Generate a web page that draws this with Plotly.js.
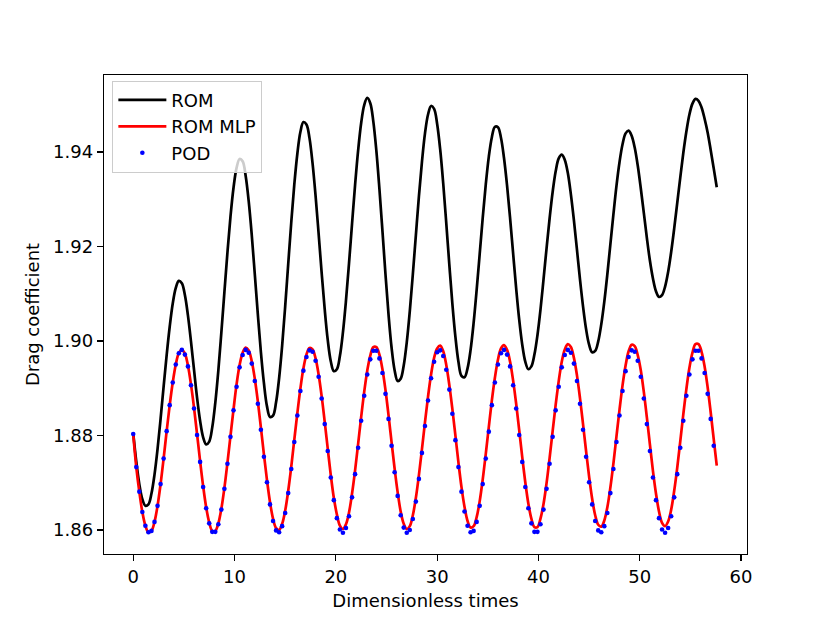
<!DOCTYPE html>
<html>
<head>
<meta charset="utf-8">
<script src="https://cdn.plot.ly/plotly-3.0.1.min.js"></script>
<style>
  html, body { margin: 0; padding: 0; background: #ffffff; }
  #chart { width: 830px; height: 623px; }
</style>
</head>
<body>
<div id="chart"></div>
<script>
// Sample times (dimensionless)
const times = [
  0,0.3,0.6,0.9,1.2,1.5,1.8,2.1,2.4,2.7,
  3,3.3,3.6,3.9,4.2,4.5,4.8,5.1,5.4,5.7,
  6,6.3,6.6,6.9,7.2,7.5,7.8,8.1,8.4,8.7,
  9,9.3,9.6,9.9,10.2,10.5,10.8,11.1,11.4,11.7,
  12,12.3,12.6,12.9,13.2,13.5,13.8,14.1,14.4,14.7,
  15,15.3,15.6,15.9,16.2,16.5,16.8,17.1,17.4,17.7,
  18,18.3,18.6,18.9,19.2,19.5,19.8,20.1,20.4,20.7,
  21,21.3,21.6,21.9,22.2,22.5,22.8,23.1,23.4,23.7,
  24,24.3,24.6,24.9,25.2,25.5,25.8,26.1,26.4,26.7,
  27,27.3,27.6,27.9,28.2,28.5,28.8,29.1,29.4,29.7,
  30,30.3,30.6,30.9,31.2,31.5,31.8,32.1,32.4,32.7,
  33,33.3,33.6,33.9,34.2,34.5,34.8,35.1,35.4,35.7,
  36,36.3,36.6,36.9,37.2,37.5,37.8,38.1,38.4,38.7,
  39,39.3,39.6,39.9,40.2,40.5,40.8,41.1,41.4,41.7,
  42,42.3,42.6,42.9,43.2,43.5,43.8,44.1,44.4,44.7,
  45,45.3,45.6,45.9,46.2,46.5,46.8,47.1,47.4,47.7,
  48,48.3,48.6,48.9,49.2,49.5,49.8,50.1,50.4,50.7,
  51,51.3,51.6,51.9,52.2,52.5,52.8,53.1,53.4,53.7,
  54,54.3,54.6,54.9,55.2,55.5,55.8,56.1,56.4,56.7,
  57,57.3,57.6
];

// ROM drag coefficient
const romValues = [
  1.8805,1.8745,1.8697,1.8665,1.8651,1.8654,1.8677,1.8717,1.8771,1.8835,
  1.8903,1.8970,1.9030,1.9079,1.9112,1.9127,1.9122,1.9097,1.9054,1.8999,
  1.8939,1.8880,1.8831,1.8796,1.8781,1.8787,1.8817,1.8869,1.8937,1.9018,
  1.9103,1.9187,1.9263,1.9324,1.9366,1.9385,1.9380,1.9349,1.9295,1.9224,
  1.9141,1.9056,1.8977,1.8911,1.8862,1.8839,1.8842,1.8870,1.8921,1.8990,
  1.9073,1.9163,1.9251,1.9331,1.9396,1.9442,1.9463,1.9458,1.9429,1.9376,
  1.9307,1.9227,1.9144,1.9067,1.9002,1.8957,1.8936,1.8940,1.8968,1.9018,
  1.9085,1.9164,1.9248,1.9330,1.9403,1.9461,1.9499,1.9514,1.9503,1.9464,
  1.9402,1.9322,1.9233,1.9141,1.9056,1.8986,1.8938,1.8915,1.8920,1.8948,
  1.8997,1.9063,1.9141,1.9224,1.9306,1.9379,1.9439,1.9479,1.9497,1.9491,
  1.9459,1.9405,1.9333,1.9249,1.9162,1.9079,1.9009,1.8956,1.8926,1.8923,
  1.8942,1.8981,1.9038,1.9108,1.9184,1.9261,1.9331,1.9390,1.9431,1.9453,
  1.9452,1.9430,1.9387,1.9329,1.9260,1.9185,1.9111,1.9045,1.8992,1.8956,
  1.8940,1.8946,1.8971,1.9012,1.9066,1.9130,1.9196,1.9259,1.9315,1.9359,
  1.9386,1.9394,1.9383,1.9355,1.9310,1.9255,1.9193,1.9130,1.9073,1.9025,
  1.8992,1.8976,1.8979,1.8999,1.9035,1.9083,1.9141,1.9205,1.9268,1.9328,
  1.9378,1.9416,1.9439,1.9445,1.9434,1.9409,1.9371,1.9323,1.9271,1.9218,
  1.9170,1.9132,1.9105,1.9093,1.9097,1.9115,1.9146,1.9188,1.9238,1.9292,
  1.9346,1.9398,1.9443,1.9479,1.9502,1.9512,1.9508,1.9494,1.9470,1.9441,
  1.9404,1.9365,1.9325
];

// ROM MLP drag coefficient
const romMlpValues = [
  1.8803,1.8733,1.8681,1.8638,1.8609,1.8595,1.8598,1.8617,1.8651,1.8697,
  1.8751,1.8809,1.8864,1.8912,1.8950,1.8974,1.8981,1.8973,1.8948,1.8908,
  1.8859,1.8803,1.8746,1.8693,1.8648,1.8616,1.8598,1.8598,1.8614,1.8645,
  1.8689,1.8742,1.8799,1.8855,1.8908,1.8949,1.8975,1.8986,1.8980,1.8957,
  1.8920,1.8872,1.8817,1.8760,1.8706,1.8659,1.8624,1.8604,1.8600,1.8613,
  1.8641,1.8683,1.8734,1.8791,1.8847,1.8899,1.8942,1.8971,1.8985,1.8982,
  1.8963,1.8929,1.8883,1.8829,1.8772,1.8716,1.8668,1.8633,1.8609,1.8602,
  1.8612,1.8637,1.8677,1.8726,1.8782,1.8839,1.8892,1.8937,1.8969,1.8987,
  1.8987,1.8971,1.8940,1.8896,1.8843,1.8786,1.8730,1.8680,1.8639,1.8613,
  1.8602,1.8608,1.8631,1.8668,1.8716,1.8771,1.8828,1.8882,1.8929,1.8964,
  1.8984,1.8990,1.8978,1.8949,1.8907,1.8856,1.8800,1.8743,1.8691,1.8649,
  1.8619,1.8605,1.8608,1.8627,1.8661,1.8707,1.8761,1.8818,1.8874,1.8922,
  1.8960,1.8984,1.8991,1.8981,1.8956,1.8916,1.8867,1.8811,1.8754,1.8701,
  1.8656,1.8624,1.8606,1.8606,1.8624,1.8655,1.8699,1.8752,1.8809,1.8865,
  1.8915,1.8956,1.8982,1.8993,1.8987,1.8964,1.8927,1.8879,1.8824,1.8767,
  1.8713,1.8666,1.8631,1.8611,1.8607,1.8620,1.8648,1.8690,1.8741,1.8798,
  1.8854,1.8906,1.8948,1.8978,1.8992,1.8989,1.8970,1.8938,1.8892,1.8838,
  1.8781,1.8725,1.8677,1.8639,1.8615,1.8608,1.8618,1.8643,1.8683,1.8732,
  1.8788,1.8845,1.8898,1.8943,1.8975,1.8993,1.8993,1.8977,1.8946,1.8902,
  1.8849,1.8792,1.8736
];

// POD drag coefficient (one sample fewer than the ROM curves)
const podValues = [
  1.8803,1.8733,1.8681,1.8638,1.8609,1.8595,1.8598,1.8617,1.8651,1.8697,
  1.8751,1.8809,1.8864,1.8912,1.8950,1.8974,1.8981,1.8971,1.8946,1.8906,
  1.8857,1.8801,1.8744,1.8691,1.8646,1.8614,1.8596,1.8596,1.8612,1.8643,
  1.8687,1.8740,1.8797,1.8853,1.8903,1.8944,1.8970,1.8981,1.8975,1.8952,
  1.8915,1.8867,1.8812,1.8755,1.8701,1.8654,1.8619,1.8599,1.8595,1.8608,
  1.8636,1.8678,1.8729,1.8786,1.8842,1.8894,1.8937,1.8966,1.8980,1.8977,
  1.8958,1.8924,1.8878,1.8824,1.8767,1.8711,1.8663,1.8625,1.8601,1.8594,
  1.8604,1.8629,1.8669,1.8718,1.8774,1.8831,1.8884,1.8929,1.8961,1.8979,
  1.8979,1.8963,1.8932,1.8888,1.8835,1.8778,1.8722,1.8672,1.8631,1.8605,
  1.8594,1.8600,1.8623,1.8660,1.8708,1.8763,1.8820,1.8874,1.8921,1.8956,
  1.8976,1.8980,1.8968,1.8939,1.8897,1.8846,1.8790,1.8733,1.8681,1.8639,
  1.8609,1.8595,1.8598,1.8617,1.8651,1.8697,1.8751,1.8808,1.8864,1.8912,
  1.8950,1.8974,1.8981,1.8971,1.8946,1.8906,1.8857,1.8801,1.8744,1.8691,
  1.8646,1.8614,1.8596,1.8596,1.8612,1.8643,1.8687,1.8740,1.8797,1.8853,
  1.8903,1.8944,1.8970,1.8981,1.8975,1.8952,1.8915,1.8867,1.8812,1.8755,
  1.8701,1.8654,1.8619,1.8599,1.8595,1.8608,1.8636,1.8678,1.8729,1.8786,
  1.8842,1.8894,1.8936,1.8966,1.8980,1.8977,1.8958,1.8924,1.8878,1.8824,
  1.8767,1.8711,1.8663,1.8625,1.8601,1.8594,1.8604,1.8629,1.8669,1.8718,
  1.8774,1.8831,1.8884,1.8929,1.8961,1.8979,1.8979,1.8963,1.8932,1.8888,
  1.8835,1.8778
];

const seriesNames = ['ROM', 'ROM MLP', 'POD'];
const xTickValues = [0, 10, 20, 30, 40, 50, 60];
const yTickValues = [1.86, 1.88, 1.90, 1.92, 1.94];
const xLabel = 'Dimensionless times';
const yLabel = 'Drag coefficient';

const podTimes = times.slice(0, podValues.length);

const FONT = '"DejaVu Sans", "Liberation Sans", sans-serif';

const traces = [
  {
    x: times, y: romValues, name: seriesNames[0],
    type: 'scatter', mode: 'lines',
    line: { color: '#000000', width: 2.7, shape: 'spline', smoothing: 1 }
  },
  {
    x: times, y: romMlpValues, name: seriesNames[1],
    type: 'scatter', mode: 'lines',
    line: { color: '#ff0000', width: 2.7, shape: 'spline', smoothing: 1 }
  },
  {
    x: podTimes, y: podValues, name: seriesNames[2],
    type: 'scatter', mode: 'markers',
    marker: { color: '#0000ff', size: 4.6, line: { width: 0 } }
  }
];

const axisCommon = {
  showgrid: false,
  zeroline: false,
  showline: true,
  mirror: true,
  linecolor: '#000000',
  linewidth: 1.3,
  ticks: 'outside',
  ticklen: 6,
  tickwidth: 1.3,
  tickcolor: '#000000',
  tickfont: { family: FONT, size: 18, color: '#000000' },
  automargin: false
};

const layout = {
  width: 830,
  height: 623,
  paper_bgcolor: '#ffffff',
  plot_bgcolor: '#ffffff',
  font: { family: FONT, size: 18, color: '#000000' },
  margin: { l: 104, r: 83, t: 75, b: 69, pad: 0 },
  showlegend: true,
  legend: {
    x: 0.013, y: 0.988, xanchor: 'left', yanchor: 'top',
    bgcolor: 'rgba(255,255,255,0.8)',
    bordercolor: '#cccccc',
    borderwidth: 1,
    font: { family: FONT, size: 18, color: '#000000' },
    itemwidth: 48
  },
  xaxis: Object.assign({}, axisCommon, {
    range: [-2.885, 60.585],
    tickvals: xTickValues,
    ticktext: xTickValues.map(v => String(v)),
    title: { text: xLabel, font: { family: FONT, size: 18, color: '#000000' }, standoff: 8 }
  }),
  yaxis: Object.assign({}, axisCommon, {
    range: [1.85491, 1.95626],
    tickvals: yTickValues,
    ticktext: yTickValues.map(v => v.toFixed(2)),
    title: { text: yLabel, font: { family: FONT, size: 18, color: '#000000' }, standoff: 8 }
  })
};

Plotly.newPlot('chart', traces, layout, { displayModeBar: false, staticPlot: true });
</script>
</body>
</html>
